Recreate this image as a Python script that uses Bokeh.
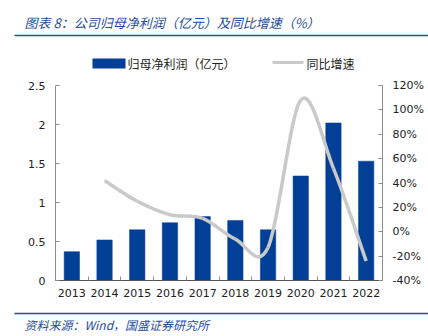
from bokeh.plotting import figure
from bokeh.models import Range1d, LinearAxis, FixedTicker, ColumnDataSource
from bokeh.core.properties import value
from bokeh.embed import file_html
from bokeh.resources import INLINE

# ---- data ----
years = ["2013", "2014", "2015", "2016", "2017", "2018", "2019", "2020", "2021", "2022"]
profit = [0.37, 0.52, 0.65, 0.74, 0.82, 0.77, 0.65, 1.34, 2.02, 1.53]
growth_years = ["2014", "2015", "2016", "2017", "2018", "2019", "2020", "2021", "2022"]
growth = [42, 25, 14, 11, -6, -13, 108, 52, -24]
left_ticks = [0, 0.5, 1, 1.5, 2, 2.5]
left_labels = ["0", "0.5", "1", "1.5", "2", "2.5"]
right_ticks = [-40, -20, 0, 20, 40, 60, 80, 100, 120]
right_labels = ["-40%", "-20%", "0%", "20%", "40%", "60%", "80%", "100%", "120%"]

title_text = "图表 8：公司归母净利润（亿元）及同比增速（%）"
legend_bar = "归母净利润（亿元）"
legend_line = "同比增速"
source_text = "资料来源：Wind，国盛证券研究所"

BAR = "#023F97"
LINE = "#C9C9C9"
BLUE_TXT = "#1E4C9C"
RULE = "#1B52A8"
AXIS = "#8C8C8C"
TXT = "#222222"
FONT = "DejaVu Sans"
CJK = "Noto Sans CJK SC"

W, H = 428, 336
FL, FR, FT, FB = 55, 382, 85, 280  # frame edges in page pixels

n = len(years)
xs = [i + 0.5 for i in range(n)]
src = ColumnDataSource(dict(x=xs, top=profit))

p = figure(width=W, height=H, x_range=Range1d(0, n), y_range=Range1d(0, 2.5),
           output_backend="svg", toolbar_location=None,
           min_border_left=FL, min_border_right=W - FR, min_border_top=FT, min_border_bottom=H - FB)
p.extra_y_ranges = {"pct": Range1d(-40, 120), "py": Range1d(FB, FT)}
p.extra_x_ranges = {"px": Range1d(FL, FR)}
p.outline_line_color = None
p.grid.visible = False
p.background_fill_color = "white"
p.border_fill_color = "white"

p.vbar(x="x", top="top", width=0.47, bottom=0, source=src, fill_color=BAR, line_color=BAR,
       line_width=0.5)

# smoothed growth curve (Excel-style smoothing via cubic Bezier between data points)
gx = [years.index(y) + 0.5 for y in growth_years]
gy = growth
m = len(gx)
x0s, y0s, x1s, y1s, c0x, c0y, c1x, c1y = [], [], [], [], [], [], [], []
for i in range(m - 1):
    pa = (gx[i - 1], gy[i - 1]) if i > 0 else (gx[i], gy[i])
    pb = (gx[i], gy[i])
    pc = (gx[i + 1], gy[i + 1])
    pd = (gx[i + 2], gy[i + 2]) if i + 2 < m else (gx[i + 1], gy[i + 1])
    x0s.append(pb[0]); y0s.append(pb[1])
    x1s.append(pc[0]); y1s.append(pc[1])
    c0x.append(pb[0] + (pc[0] - pa[0]) / 6); c0y.append(pb[1] + (pc[1] - pa[1]) / 6)
    c1x.append(pc[0] - (pd[0] - pb[0]) / 6); c1y.append(pc[1] - (pd[1] - pb[1]) / 6)
p.bezier(x0=x0s, y0=y0s, x1=x1s, y1=y1s, cx0=c0x, cy0=c0y, cx1=c1x, cy1=c1y,
         line_color=LINE, line_width=3.5, y_range_name="pct")

# ---- header / legend / footer (page-pixel ranges, drawn unclipped) ----
K = dict(x_range_name="px", y_range_name="py", level="overlay")
r = p.text(x=[24], y=[22], text=[title_text], text_font=value(CJK), text_font_size="13px",
           text_font_style="italic", text_color=BLUE_TXT, text_baseline="middle", **K)
p.segment(x0=[14], y0=[35], x1=[W], y1=[35], line_color=RULE, line_width=1.6, **K)
p.quad(left=[92], right=[125], top=[58], bottom=[68], fill_color=BAR, line_color=None, **K)
p.text(x=[127], y=[63], text=[legend_bar], text_font=value(CJK), text_font_size="12px",
       text_color=TXT, text_baseline="middle", **K)
p.segment(x0=[272], y0=[62], x1=[303], y1=[62], line_color=LINE, line_width=3, **K)
p.text(x=[306], y=[63], text=[legend_line], text_font=value(CJK), text_font_size="12px",
       text_color=TXT, text_baseline="middle", **K)
p.segment(x0=[14], y0=[313], x1=[W], y1=[313], line_color=RULE, line_width=1.6, **K)
p.text(x=[24], y=[324], text=[source_text], text_font=value(CJK), text_font_size="12px",
       text_font_style="italic", text_color=BLUE_TXT, text_baseline="middle", **K)

# axes
ax = p.xaxis[0]
ax.ticker = FixedTicker(ticks=xs, minor_ticks=list(range(n + 1)))
ax.major_label_overrides = {x: y for x, y in zip(xs, years)}
ax.major_tick_in = 0
ax.major_tick_out = 0
ax.minor_tick_in = 4
ax.minor_tick_out = 0
ax.minor_tick_line_color = AXIS
ax.axis_line_color = "#555555"
ax.axis_line_width = 1.2
ax.major_label_text_font = FONT
ax.major_label_text_font_size = "11px"
ax.major_label_text_color = TXT
ax.major_label_standoff = 8

ly = p.yaxis[0]
ly.ticker = FixedTicker(ticks=left_ticks, minor_ticks=[])
ly.major_label_overrides = {t: s for t, s in zip(left_ticks, left_labels)}
ly.major_tick_in = 4
ly.major_tick_out = 0
ly.axis_line_color = AXIS
ly.major_tick_line_color = AXIS
ly.major_label_text_font = FONT
ly.major_label_text_font_size = "11px"
ly.major_label_text_color = TXT
ly.major_label_standoff = 10

ry = LinearAxis(y_range_name="pct")
ry.ticker = FixedTicker(ticks=right_ticks, minor_ticks=[])
ry.major_label_overrides = {t: s for t, s in zip(right_ticks, right_labels)}
ry.major_tick_in = 4
ry.major_tick_out = 0
ry.axis_line_color = AXIS
ry.major_tick_line_color = AXIS
ry.major_label_text_font = FONT
ry.major_label_text_font_size = "11px"
ry.major_label_text_color = TXT
ry.major_label_standoff = 10
p.add_layout(ry, "right")

open("out.html", "w").write(file_html(p, INLINE))
